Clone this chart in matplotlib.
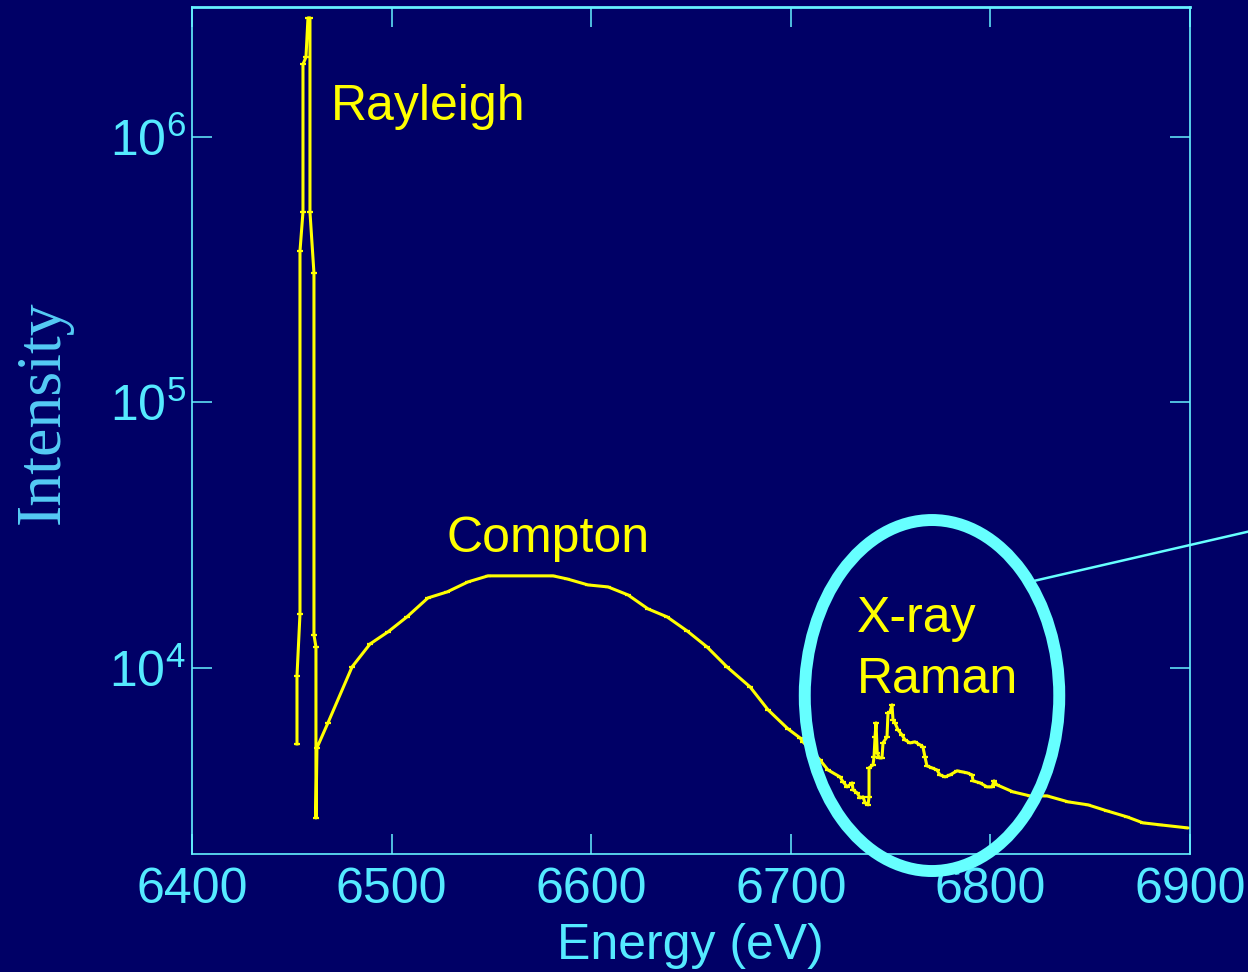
import math
import matplotlib
matplotlib.use('Agg')
import matplotlib.pyplot as plt
from matplotlib.patches import Ellipse
from matplotlib.lines import Line2D
from matplotlib.ticker import FixedLocator, FuncFormatter, NullLocator

# spectrum, in three stretches
rayleigh_e = [6452.6, 6452.6, 6454.1, 6454.1, 6455.6, 6455.6, 6457.1, 6458.1, 6459.1,
              6459.1, 6461.1, 6461.1, 6462.1, 6462.1]
rayleigh_i = [5170, 9330, 15970, 3.72e5, 5.22e5, 1.88e6, 2.0e6, 2.81e6, 2.81e6,
              5.22e5, 3.07e5, 13300, 12000, 2720]

compton_e = [6462.6, 6468.1, 6480.2, 6489.2, 6498.2, 6507.7, 6518.2, 6527.8, 6538.3,
             6548.3, 6580.9, 6587.9, 6598.4, 6608.4, 6618.4, 6628.5, 6638.0, 6648.0,
             6658.0, 6668.0, 6679.6, 6688.6, 6698.6, 6704.6]
compton_i = [5000, 6205, 10090, 12310, 13670, 15570, 18350, 19330, 21090,
             22220, 22220, 21640, 20540, 20190, 18840, 16680, 15570, 13790,
             12000, 10090, 8480, 6950, 5890, 5450]

raman_e = [6706.1, 6714.6, 6718.6, 6724.6, 6726.2, 6728.2, 6730.7, 6731.2, 6733.2,
           6734.7, 6736.2, 6737.2, 6738.7, 6739.2, 6739.2, 6741.2, 6741.7, 6742.2,
           6742.7, 6743.3, 6744.3, 6745.7, 6746.2, 6748.2, 6748.7, 6749.7, 6750.7,
           6751.2, 6752.2, 6753.7, 6755.7, 6757.2, 6759.7, 6762.2, 6764.7, 6766.2,
           6767.2, 6768.2, 6770.7, 6773.2, 6774.7, 6777.3, 6779.8, 6783.3, 6785.8,
           6788.3, 6790.8, 6791.3, 6794.8, 6798.3, 6800.8, 6801.8, 6803.3, 6811.3,
           6819.8, 6828.4, 6838.9, 6848.9, 6858.4, 6868.4, 6876.4, 6885.0, 6898.5]
raman_i = [5264, 4502, 4127, 3886, 3721, 3563, 3688, 3471, 3382,
           3239, 3267, 3101, 3048, 3267, 4201, 4311, 4622, 5497,
           6205, 4784, 4581, 4581, 5219, 5497, 6768, 6828, 7256,
           6370, 6205, 5840, 5594, 5356, 5219, 5264, 5129, 5040,
           4622, 4274, 4201, 4127, 3954, 3886, 3954, 4094, 4059,
           4024, 3954, 3753, 3688, 3563, 3563, 3753, 3625, 3412,
           3294, 3294, 3129, 3048, 2893, 2747, 2608, 2563, 2497]

energy = rayleigh_e + compton_e + raman_e
intensity = rayleigh_i + compton_i + raman_i

bg = '#000066'
cyan = '#55EAFF'
spine_c = '#66F2FF'
yellow = '#FFFF00'

plt.rcParams['font.family'] = ['Liberation Sans', 'DejaVu Sans']
plt.rcParams['mathtext.fontset'] = 'custom'
plt.rcParams['mathtext.rm'] = 'Liberation Sans'

fig = plt.figure(figsize=(12.48, 9.72), dpi=100, facecolor=bg)
ax = fig.add_axes([192/1248, 1 - 854/972, 998/1248, 847/972])
ax.set_facecolor(bg)

ax.plot(energy, intensity, color=yellow, lw=2.2, marker='_', ms=5, mew=1.6)

ax.set_yscale('log')
ax.set_xlim(6400, 6900)
ax.set_ylim(1990, 3.09e6)
ax.xaxis.set_major_locator(FixedLocator([6400, 6500, 6600, 6700, 6800, 6900]))
ax.yaxis.set_major_locator(FixedLocator([1e4, 1e5, 1e6]))
ax.yaxis.set_minor_locator(NullLocator())
ax.yaxis.set_major_formatter(FuncFormatter(
    lambda v, p: r'$\mathrm{10^{%d}}$' % round(math.log10(v))))

for s in ax.spines.values():
    s.set_color(spine_c)
    s.set_linewidth(1.2)
ax.spines['top'].set_linewidth(2)

ax.tick_params(which='both', direction='in', length=14.5, width=1.1,
               top=True, right=True, color=spine_c, labelcolor=cyan, labelsize=36)
ax.tick_params(axis='x', pad=9)
ax.tick_params(axis='y', pad=4.5)

ax.set_xlabel('Energy (eV)', fontsize=36, color=cyan)
ax.xaxis.set_label_coords(0.499, -0.082)
ax.set_ylabel('Intensity', fontsize=46, color='#55CCF5',
              fontfamily=['Liberation Serif', 'DejaVu Serif'])
ax.yaxis.set_label_coords(-0.119, 0.5215)

ax.text(6469.5, 1.16e6, 'Rayleigh', fontsize=36, color=yellow, va='baseline')
ax.text(6527.3, 27350, 'Compton', fontsize=36, color=yellow, va='baseline')
ax.text(6733.0, 13700, 'X-ray', fontsize=36, color=yellow, va='baseline')
ax.text(6733.0, 8030, 'Raman', fontsize=36, color=yellow, va='baseline')

ax.add_patch(Ellipse((0.7415, 0.1871), 0.2550, 0.4144, transform=ax.transAxes,
                     fill=False, ec='#66FFFF', lw=8.6, clip_on=False, zorder=5))
ax.add_line(Line2D([0.8447, 1.0701], [0.3227, 0.3838], transform=ax.transAxes,
                   color='#66FFFF', lw=1.8, clip_on=False, zorder=5))

fig.savefig('out.png', dpi=100, facecolor=bg)
